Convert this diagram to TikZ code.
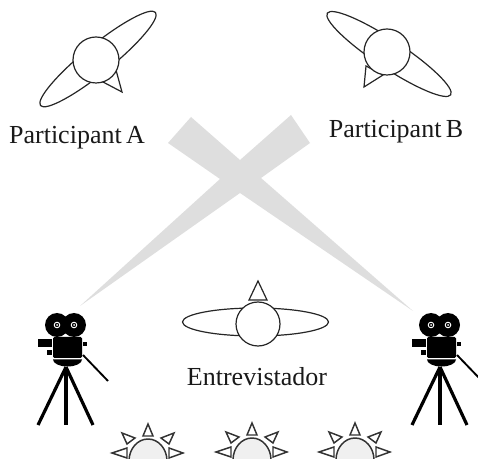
\documentclass[tikz,border=0pt]{standalone}
\usepackage{fontspec}
\setmainfont{Liberation Serif}
\tikzset{
  figure/.style={draw=black!85, line width=0.9pt, fill=white},
  label/.style={font=\fontsize{19.5}{22}\selectfont, text=black!90, inner sep=0pt},
  ray/.style={draw=black!80, line width=1.1pt, fill=white},
  leg/.style={black, line width=2.4pt}
}
\begin{document}
\begin{tikzpicture}[x=0.75pt,y=-0.75pt]
    \clip (0,0) rectangle (478,459);
    % Regards
    \fill[black!13] (191,117) -- (240,160) -- (291,115) -- (310,143) -- (261,178) -- (413,311) -- (240,193) -- (80,306) -- (220,179) -- (168,143) -- cycle;
    % Participant A
    \draw[figure] (116,70) -- (122,92) -- (103,82) -- cycle;
    \draw[figure, rotate around={39:(98,59)}] (98,59) ellipse (74 and 14);
    \draw[figure] (96,60) circle (23);
    \node[label] (participantA) at (77,138) {Participant\,A};
    % Participant B
    \draw[figure] (366,66) -- (364,87) -- (383,75) -- cycle;
    \draw[figure, rotate around={-33.5:(389,54)}] (389,54) ellipse (74 and 14);
    \draw[figure] (387,52) circle (23);
    \node[label] (participantB) at (396,132) {Participant\,B};
    % Entrevistador
    \draw[figure] (249,300) -- (258,281) -- (267,300) -- cycle;
    \draw[figure] (255.5,322) ellipse (73 and 14);
    \draw[figure] (258,324) circle (22);
    \node[label] (entrevistador) at (257,377) {Entrevistador};
    % Cameras
    \foreach \dx in {0,374} {
      \begin{scope}[shift={(\dx,0)}]
        \fill (57,325) circle (12);
        \fill (74,325) circle (12);
        \foreach \ex in {57,74} {
          \draw[white, line width=0.7pt] (\ex,325) circle (2.8);
          \fill[white] (\ex,325) circle (1);
        }
        \fill[rounded corners=1pt] (53,337) rectangle (82,358);
        \fill (53,359.5) -- (82,359.5) arc[start angle=0, end angle=180, x radius=14.5, y radius=7] -- cycle;
        \fill (38,339) rectangle (52,347);
        \fill (47,350) rectangle (52,355);
        \fill (83,342) rectangle (87,346);
        \draw[line width=1.4pt] (83,355) -- (108,381);
        \draw[leg] (66,367) -- (38,425);
        \draw[leg] (66,367) -- (66,425);
        \draw[leg] (66,367) -- (93,425);
      \end{scope}
    }
    % Lumieres
    \foreach \sx/\sy in {148/461,252/460,355/460} {
      \begin{scope}[shift={(\sx,\sy)}]
        \draw[ray] (-5,-25) -- (0,-37) -- (5,-25) -- cycle;
        \draw[ray] (-21,-17) -- (-26,-28) -- (-13,-23) -- cycle;
        \draw[ray] (21,-17) -- (26,-28) -- (13,-23) -- cycle;
        \draw[ray] (-21,-13) -- (-36,-8) -- (-21,-3) -- cycle;
        \draw[ray] (21,-13) -- (35,-8) -- (21,-3) -- cycle;
        \draw[draw=black!80, line width=1.1pt, fill=black!6] (0,0) ellipse (19 and 22);
      \end{scope}
    }
\end{tikzpicture}
\end{document}
